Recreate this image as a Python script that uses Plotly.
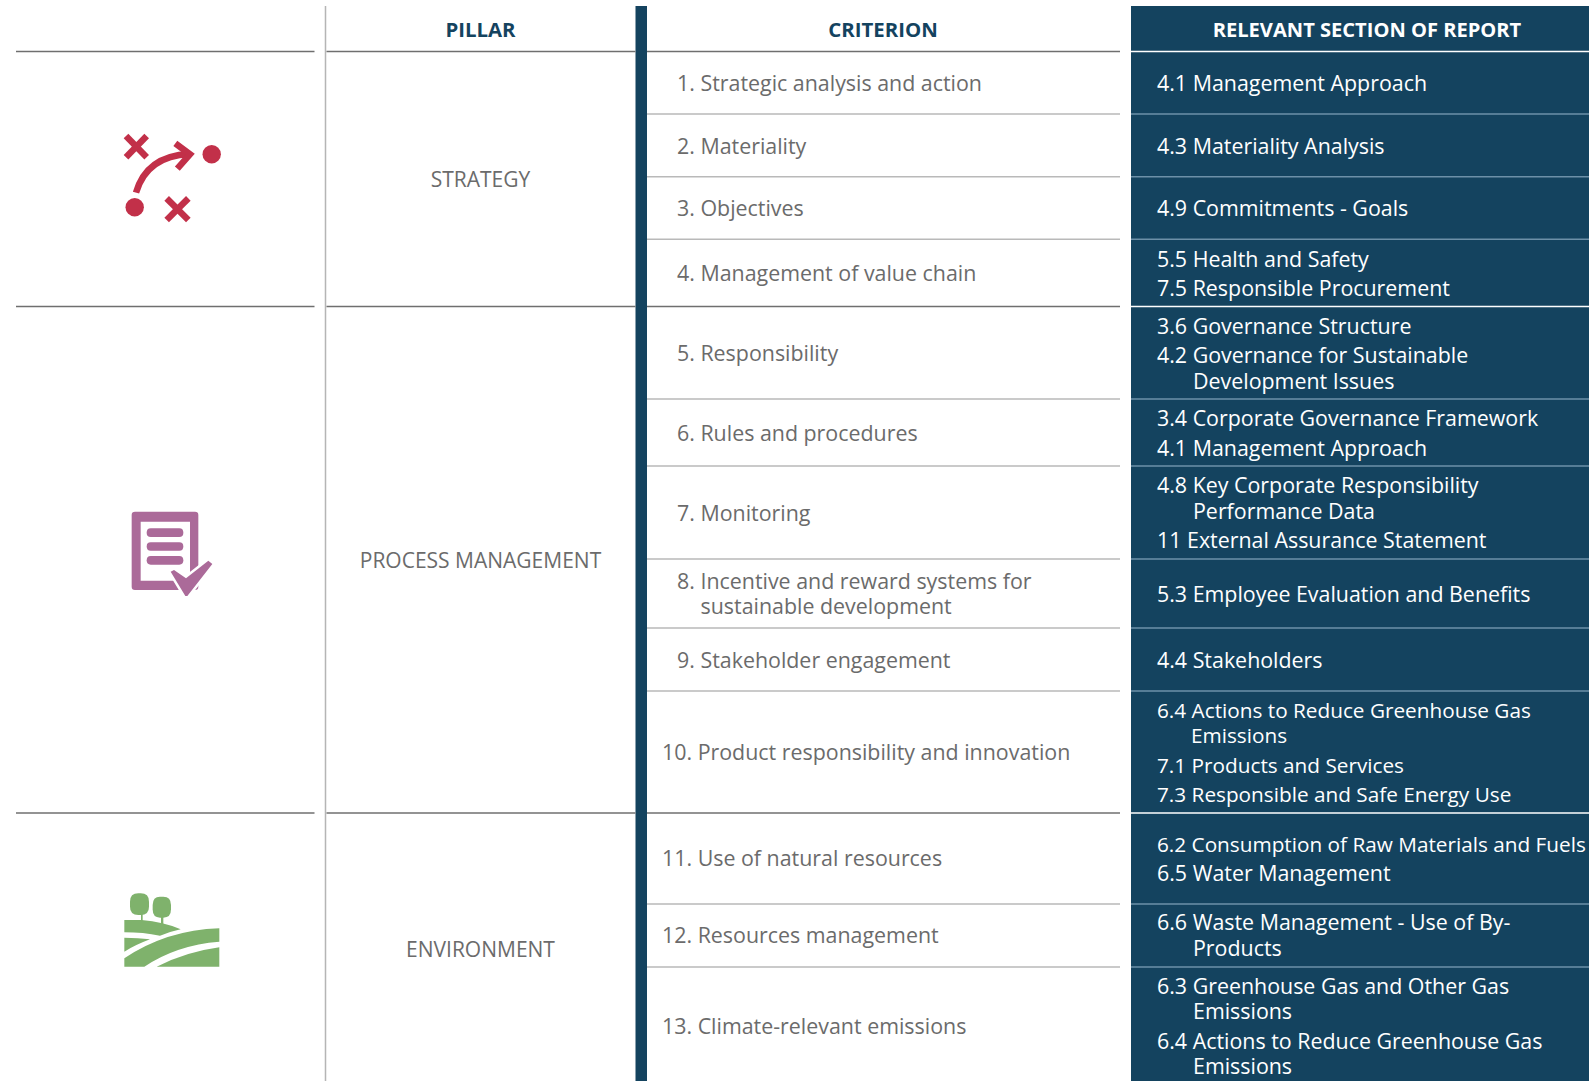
import plotly.graph_objects as go

NAVY = "#14435f"; GREY = "#6b6b6b"; RED = "#c23049"; PURPLE = "#ab6a99"; GREEN = "#7fb26c"
W, H = 1589, 1081
FS = 21.4
FS_TIGHT = 20.75
FS_HEAD = 20.4
FS_HEAD_WIDE = 20.1
FS_PILLAR = 21
TEXT_DY = 2

header_labels = ["PILLAR", "CRITERION", "RELEVANT SECTION OF REPORT"]
header_x = [480.5, 883, 1367]
header_y = [29.5, 29.5, 29.5]

pillars = ["STRATEGY", "PROCESS MANAGEMENT", "ENVIRONMENT"]
pillar_x = [480.5, 480.5, 480.5]
pillar_y = [179.5, 560.5, 949.5]

criteria = ["1. Strategic analysis and action", "2. Materiality", "3. Objectives",
            "4. Management of value chain", "5. Responsibility", "6. Rules and procedures",
            "7. Monitoring", "8. Incentive and reward systems for", "sustainable development",
            "9. Stakeholder engagement", "10. Product responsibility and innovation",
            "11. Use of natural resources", "12. Resources management",
            "13. Climate-relevant emissions"]
criteria_x = [677, 677, 677, 677, 677, 677, 677, 677, 700.5, 677, 662, 662, 662, 662]
criteria_y = [84, 147, 209, 274, 354, 434, 514, 582, 606.5, 661, 753, 859, 936, 1027]

sections = ["4.1 Management Approach", "4.3 Materiality Analysis", "4.9 Commitments - Goals",
            "5.5 Health and Safety", "7.5 Responsible Procurement",
            "3.6 Governance Structure", "4.2 Governance for Sustainable", "Development Issues",
            "3.4 Corporate Governance Framework", "4.1 Management Approach",
            "4.8 Key Corporate Responsibility", "Performance Data", "11 External Assurance Statement",
            "5.3 Employee Evaluation and Benefits", "4.4 Stakeholders",
            "6.4 Actions to Reduce Greenhouse Gas", "Emissions", "7.1 Products and Services",
            "7.3 Responsible and Safe Energy Use",
            "6.2 Consumption of Raw Materials and Fuels", "6.5 Water Management",
            "6.6 Waste Management - Use of By-", "Products",
            "6.3 Greenhouse Gas and Other Gas", "Emissions",
            "6.4 Actions to Reduce Greenhouse Gas", "Emissions"]
sections_x = [1157, 1157, 1157, 1157, 1157, 1157, 1157, 1193, 1157, 1157, 1157, 1193, 1157,
              1157, 1157, 1157, 1191, 1157, 1157, 1157, 1157, 1157, 1193, 1157, 1193, 1157, 1193]
sections_y = [84, 147, 209, 259.5, 289, 326.5, 355.5, 382, 418.5, 449, 485.5, 511.5, 540.5,
              595, 660.8, 711, 735.5, 766, 794.5, 844.5, 873.5, 922.5, 948.5, 987, 1012, 1042, 1066.5]
sections_size = [FS] * len(sections)
for i in (15, 16, 17, 18, 19):
    sections_size[i] = FS_TIGHT

row_lines_minor = [114, 176.7, 239.3, 399, 466, 559, 628, 691, 904, 967]
row_lines_major = [51.6, 306.5, 813]

shapes = []
def line(x0, y0, x1, y1, color, w=1.5, layer="below"):
    shapes.append(dict(type="line", xref="x", yref="y", x0=x0, y0=y0, x1=x1, y1=y1,
                       line=dict(color=color, width=w), layer=layer))
def rect(x0, y0, x1, y1, color):
    shapes.append(dict(type="rect", xref="x", yref="y", x0=x0, y0=y0, x1=x1, y1=y1,
                       fillcolor=color, line=dict(width=0), layer="below"))

# navy panels
rect(1131, 6, W, H, NAVY)
rect(635.5, 6, 647, H, NAVY)
# vertical rule
line(325.5, 6, 325.5, H, "#b5b5b5", 1.5)

# horizontal rules
for y in row_lines_major:
    line(16, y, 314.5, y, "#6f6f6f", 1.5)
    line(326.5, y, 635.5, y, "#6f6f6f", 1.5)
    line(647, y, 1120, y, "#6f6f6f", 1.5)
    line(1131, y, W, y, "#ffffff", 1.5)
for y in row_lines_minor:
    line(647, y, 1120, y, "#b9b9b9", 1.5)
    line(1131, y, W, y, "#6d90a8", 1.5)

def tf(path, ox, oy):
    """Icon outlines are noted in 3x crop units relative to an origin."""
    out, isx = [], True
    for tok in path.split():
        if tok.isalpha():
            out.append(tok)
        else:
            v = float(tok) / 3
            out.append(f"{(ox + v) if isx else (oy + v):.2f}")
            isx = not isx
    return " ".join(out)

def shape_path(path, ox, oy, fill=None, stroke=None, w=0):
    s = dict(type="path", xref="x", yref="y", path=tf(path, ox, oy), layer="above",
             line=dict(color=stroke or "rgba(0,0,0,0)", width=w))
    s["fillcolor"] = fill if fill else "rgba(0,0,0,0)"
    shapes.append(s)

def circle(cx, cy, r, fill):
    shapes.append(dict(type="circle", xref="x", yref="y", x0=cx - r, x1=cx + r, y0=cy - r, y1=cy + r,
                       fillcolor=fill, line=dict(width=0), layer="above"))

# strategy icon
for p in ["M 78 48 L 140 112", "M 140 48 L 78 112", "M 200 235 L 265 300", "M 265 235 L 200 300",
          "M 108 218 Q 140 108 268 102", "M 226 70 L 270 103 L 232 146"]:
    shapes.append(dict(type="path", xref="x", yref="y", path=tf(p, 100, 120), layer="above",
                       fillcolor="rgba(0,0,0,0)", line=dict(color=RED, width=6.5)))
circle(211.7, 154.3, 9.2, RED)
circle(134.7, 207.3, 9.2, RED)

# report icon
shape_path("M 105 65 L 285 65 Q 295 65 295 75 L 295 290 Q 295 300 285 300 L 105 300 Q 95 300 95 290 L 95 75 Q 95 65 105 65 Z "
           "M 122 95 L 122 272 L 270 272 L 270 95 Z", 100, 490, fill=PURPLE)
for y0, y1 in [(115, 141), (157, 182), (198, 224)]:
    m = (y0 + y1) / 2
    shape_path(f"M 152 {y0} L 238 {y0} Q 250 {y0} 250 {m} Q 250 {y1} 238 {y1} L 152 {y1} Q 140 {y1} 140 {m} Q 140 {y0} 152 {y0} Z",
               100, 490, fill=PURPLE)
CHECK = "M 212 245 L 222 240 L 258 265 L 325 212 L 337 222 L 262 318 L 256 318 Z"
shape_path(CHECK, 100, 490, fill=PURPLE, stroke="#ffffff", w=5)
shape_path(CHECK, 100, 490, fill=PURPLE)

# landscape icon
shape_path("M 115 70 L 122 70 Q 147 70 147 95 L 147 110 Q 147 135 122 135 L 115 135 Q 90 135 90 110 L 90 95 Q 90 70 115 70 Z",
           100, 870, fill=GREEN)
shape_path("M 180 80 L 190 80 Q 213 80 213 105 L 213 118 Q 213 143 190 143 L 180 143 Q 158 143 158 118 L 158 105 Q 158 80 180 80 Z",
           100, 870, fill=GREEN)
shape_path("M 123 130 L 128 130 L 128 155 L 123 155 Z", 100, 870, fill=GREEN)
shape_path("M 183 140 L 190 140 L 190 165 L 183 165 Z", 100, 870, fill=GREEN)
shape_path("M 73 150 L 125 150 Q 190 155 242 178 Q 210 185 180 197 Q 130 187 73 187 Z", 100, 870, fill=GREEN)
shape_path("M 73 203 Q 115 203 150 208 Q 105 225 73 245 Z", 100, 870, fill=GREEN)
shape_path("M 73 265 Q 200 180 358 175 L 358 215 Q 230 225 133 290 L 73 290 Z", 100, 870, fill=GREEN)
shape_path("M 170 290 Q 260 245 358 232 L 358 290 Z", 100, 870, fill=GREEN)

def down(ys):
    return [y + TEXT_DY for y in ys]

fig = go.Figure()
fig.add_trace(go.Scatter(x=header_x[:2], y=down(header_y[:2]), text=header_labels[:2], mode="text",
                         textposition="middle center", hoverinfo="skip",
                         textfont=dict(family="Open Sans", size=FS_HEAD, color=NAVY, weight=700)))
fig.add_trace(go.Scatter(x=header_x[2:], y=down(header_y[2:]), text=header_labels[2:], mode="text",
                         textposition="middle center", hoverinfo="skip",
                         textfont=dict(family="Open Sans", size=FS_HEAD_WIDE, color="#ffffff", weight=700)))
fig.add_trace(go.Scatter(x=pillar_x, y=down(pillar_y), text=pillars, mode="text",
                         textposition="middle center", hoverinfo="skip",
                         textfont=dict(family="Open Sans", size=FS_PILLAR, color=GREY)))
fig.add_trace(go.Scatter(x=criteria_x, y=down(criteria_y), text=criteria, mode="text",
                         textposition="middle right", hoverinfo="skip",
                         textfont=dict(family="Open Sans", size=FS, color=GREY)))
fig.add_trace(go.Scatter(x=sections_x, y=down(sections_y), text=sections, mode="text",
                         textposition="middle right", hoverinfo="skip", cliponaxis=False,
                         textfont=dict(family="Open Sans", size=sections_size, color="#ffffff")))

fig.update_layout(width=W, height=H, margin=dict(l=0, r=0, t=0, b=0), showlegend=False,
                  paper_bgcolor="#ffffff", plot_bgcolor="#ffffff", shapes=shapes,
                  xaxis=dict(range=[0, W], visible=False, fixedrange=True),
                  yaxis=dict(range=[H, 0], visible=False, fixedrange=True))
fig.write_html("out.html", config=dict(displayModeBar=False),
               post_script="document.body.style.margin='0';document.documentElement.style.overflow='hidden';")
